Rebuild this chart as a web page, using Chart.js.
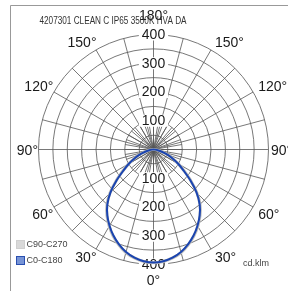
<!DOCTYPE html>
<html>
<head>
<meta charset="utf-8">
<script src="https://cdn.jsdelivr.net/npm/chart.js@4.4.0/dist/chart.umd.min.js"></script>
<style>
  html, body { margin: 0; padding: 0; background: #ffffff; }
  #wrap { width: 288px; height: 291px; }
</style>
</head>
<body>
<div id="wrap"><canvas id="polarChart" width="288" height="291"></canvas></div>
<script>
const gammaAngles = [0, 5, 10, 15, 20, 25, 30, 35, 40, 45, 50, 55, 60, 65, 70, 75, 80, 85, 90];
const intensityC0   = [393, 390, 382, 369, 351, 330, 306, 280, 250, 212, 168, 128, 99, 72, 50, 30, 15, 5, 0];
const intensityC180 = [393, 390, 382, 369, 351, 330, 306, 280, 250, 212, 168, 128, 99, 72, 50, 30, 15, 5, 0];
const intensityC90  = [394, 391, 383, 371, 353, 332, 308, 282, 252, 214, 170, 130, 100, 73, 51, 31, 15, 5, 0];
const intensityC270 = [394, 391, 383, 371, 353, 332, 308, 282, 252, 214, 170, 130, 100, 73, 51, 31, 15, 5, 0];

const ringValues = [50, 100, 150, 200, 250, 300, 350, 400];
const ringLabels = [100, 200, 300, 400];
const angleLabels = [0, 30, 60, 90, 120, 150, 180];
const seriesNames = ['C0-C180', 'C90-C270'];
const chartTitle = '4207301 CLEAN C IP65 3500K HVA DA';
const unitLabel = 'cd.klm';
const maxValue = 400;

// Convierte un plano C (izquierda / derecha) a puntos x,y
function planePoints(leftValues, rightValues) {
    const pts = [];
    for (let i = gammaAngles.length - 1; i >= 0; i--) {
        const g = gammaAngles[i] * Math.PI / 180;
        pts.push({ x: -leftValues[i] * Math.sin(g), y: -leftValues[i] * Math.cos(g) });
    }
    for (let i = 1; i < gammaAngles.length; i++) {
        const g = gammaAngles[i] * Math.PI / 180;
        pts.push({ x: rightValues[i] * Math.sin(g), y: -rightValues[i] * Math.cos(g) });
    }
    return pts;
}

// Rejilla polar, rótulos y leyenda
const polarGrid = {
    id: 'polarGrid',
    beforeDatasetsDraw(chart) {
        const ctx = chart.ctx;
        const sx = chart.scales.x;
        const sy = chart.scales.y;
        const cx = sx.getPixelForValue(0);
        const cy = sy.getPixelForValue(0);
        const rad = v => sx.getPixelForValue(v) - cx;
        const R = rad(maxValue);
        const toRad = a => a * Math.PI / 180;

        ctx.save();

        // marco
        ctx.strokeStyle = '#999999';
        ctx.lineWidth = 1;
        ctx.beginPath();
        ctx.moveTo(10.5, 300);
        ctx.lineTo(10.5, 5.5);
        ctx.lineTo(300, 5.5);
        ctx.stroke();

        // círculos
        ctx.strokeStyle = '#555555';
        ctx.lineWidth = 0.8;
        ringValues.forEach(v => {
            ctx.beginPath();
            ctx.arc(cx, cy, rad(v), 0, Math.PI * 2);
            ctx.stroke();
        });

        // radios: cada 10° cerca del centro, cada 15° hasta el borde
        ctx.beginPath();
        for (let a = 0; a < 360; a += 10) {
            const r = rad(100);
            ctx.moveTo(cx, cy);
            ctx.lineTo(cx + r * Math.sin(toRad(a)), cy + r * Math.cos(toRad(a)));
        }
        for (let a = 0; a < 360; a += 15) {
            ctx.moveTo(cx, cy);
            ctx.lineTo(cx + R * Math.sin(toRad(a)), cy + R * Math.cos(toRad(a)));
        }
        ctx.stroke();

        // valores de los círculos, arriba y abajo
        ctx.font = '14px "Liberation Sans", Arial, sans-serif';
        ctx.textAlign = 'center';
        ctx.textBaseline = 'middle';
        ringLabels.forEach(v => {
            const txt = String(v);
            const w = ctx.measureText(txt).width + 6;
            [-1, 1].forEach(s => {
                const y = cy + s * rad(v);
                ctx.fillStyle = '#ffffff';
                ctx.fillRect(cx - w / 2, y - 6, w, 12);
                ctx.fillStyle = '#1a1a1a';
                ctx.fillText(txt, cx, y + 0.5);
            });
        });

        // ángulos
        ctx.fillStyle = '#1a1a1a';
        ctx.textBaseline = 'alphabetic';
        angleLabels.forEach(a => {
            const txt = a + '°';
            if (a === 0) {
                ctx.textAlign = 'center';
                ctx.fillText(txt, cx, cy + R + 20.5);
                return;
            }
            if (a === 180) {
                ctx.textAlign = 'center';
                ctx.fillText(txt, cx, cy - R - 14.5);
                return;
            }
            [-1, 1].forEach(s => {
                const r = R + 3;
                const ax = cx + s * r * Math.sin(toRad(a));
                const ay = cy + r * Math.cos(toRad(a));
                ctx.textAlign = s < 0 ? 'right' : 'left';
                let y = ay;
                if (a < 90) y = ay + 10;
                if (a === 90) y = ay + 5;
                const x = s < 0 ? ax + (a === 90 ? 2.5 : 2) : ax + (a === 90 ? -0.5 : 2.5);
                ctx.fillText(txt, x, y);
            });
        });

        // título
        ctx.save();
        ctx.fillStyle = '#333333';
        ctx.font = '10px "Liberation Sans", Arial, sans-serif';
        ctx.textAlign = 'left';
        ctx.translate(39.5, 24);
        ctx.scale(0.82, 1);
        ctx.fillText(chartTitle, 0, 0);
        ctx.restore();

        ctx.restore();
    },
    afterDatasetsDraw(chart) {
        const ctx = chart.ctx;
        ctx.save();
        ctx.font = '9px "Liberation Sans", Arial, sans-serif';
        ctx.textBaseline = 'middle';
        ctx.textAlign = 'left';

        // leyenda
        ctx.fillStyle = '#d9d9d9';
        ctx.fillRect(16, 240, 9, 9);
        ctx.strokeStyle = '#c4c4c4';
        ctx.setLineDash([1, 1]);
        ctx.strokeRect(16.5, 240.5, 8, 8);
        ctx.setLineDash([]);
        ctx.fillStyle = '#444444';
        ctx.fillText(seriesNames[1], 26.5, 245);

        ctx.fillStyle = '#7794d6';
        ctx.fillRect(16, 256, 9, 9);
        ctx.strokeStyle = '#2a4fb0';
        ctx.strokeRect(16.5, 256.5, 8, 8);
        ctx.fillStyle = '#444444';
        ctx.fillText(seriesNames[0], 26.5, 261);

        // unidad
        ctx.fillText(unitLabel, 243, 264);
        ctx.restore();
    }
};

const ctx = document.getElementById('polarChart').getContext('2d');
new Chart(ctx, {
    type: 'scatter',
    data: {
        datasets: [{
            label: seriesNames[0],
            data: planePoints(intensityC180, intensityC0),
            showLine: true,
            borderColor: '#1a44b0',
            borderWidth: 2,
            pointRadius: 0,
            tension: 0.3,
            fill: false
        }, {
            label: seriesNames[1],
            data: planePoints(intensityC270, intensityC90),
            showLine: true,
            borderColor: '#bdbdbd',
            borderWidth: 3,
            pointRadius: 0,
            tension: 0.3,
            fill: false
        }]
    },
    options: {
        responsive: false,
        animation: false,
        layout: {
            padding: { left: 38.5, right: 19.5, top: 34.5, bottom: 26.5 }
        },
        plugins: {
            legend: { display: false },
            tooltip: { enabled: false }
        },
        scales: {
            x: { type: 'linear', min: -maxValue, max: maxValue, display: false },
            y: { type: 'linear', min: -maxValue, max: maxValue, display: false }
        }
    },
    plugins: [polarGrid]
});
</script>
</body>
</html>
